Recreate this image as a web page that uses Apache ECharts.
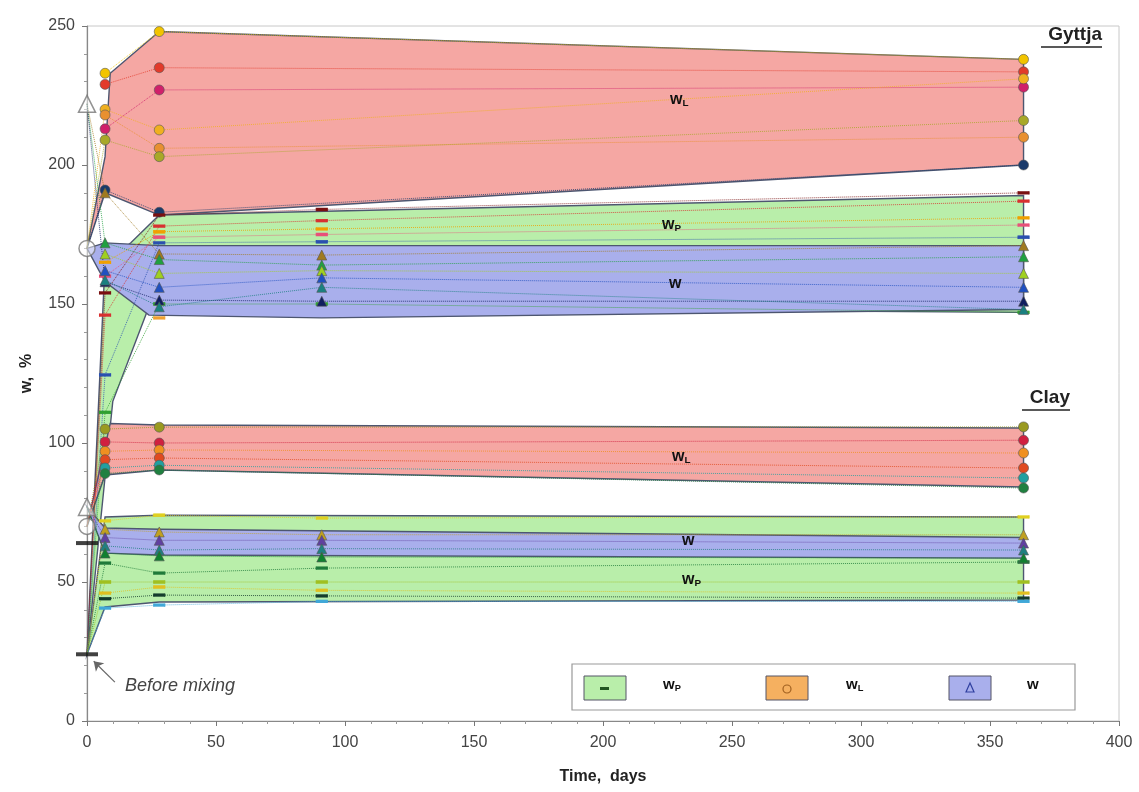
<!DOCTYPE html>
<html><head><meta charset="utf-8">
<script src="https://cdn.jsdelivr.net/npm/echarts@6/dist/echarts.min.js"></script>
<style>html,body{margin:0;padding:0;background:#fff}#c{width:1139px;height:792px}</style>
</head><body><div id="c"></div>
<script>
// ---------- DATA ----------
const days = [0, 7, 28, 91, 363];

// before mixing (day 0)
const beforeW  = [222, 77];
const beforeWL = [170, 70];
const beforeWP = [64, 24];

// band envelopes [day, value]
const gyttjaWLBand = [[0,170],[7,203],[9,233],[28,248],[363,238],[363,200],[28,182],[7,190]];
const gyttjaWPBand = [[0,24],[7,165],[17,172],[28,182],[363,189],[363,147],[24,149],[10,115]];
const gyttjaWBand  = [[0,170],[7,172],[28,171],[363,171],[363,148],[91,145],[24,146],[7,158]];
const clayWLBand   = [[0,70],[9,107],[28,106.5],[363,105.4],[363,84.2],[28,90.3],[7,88.5]];
const clayWPBand   = [[0,24],[7,73.4],[28,74],[363,73.4],[363,43.5],[28,42.8],[7,41]];
const clayWBand    = [[0,77],[7,69.4],[28,69],[363,66],[363,58.6],[28,59.7],[7,60.4]];

// individual samples, values at `days` (null = not measured)
const gyttjaWL = [
  [null,233,248,null,238],
  [null,229,235,null,233.5],
  [null,213,227,null,228],
  [170,220,212.6,null,231],
  [null,218,206,null,210],
  [170,209,203,null,216],
  [170,191,183,null,200]
];
const gyttjaWP = [
  [24,154,182,184,190],
  [24,146,178,180,187],
  [null,165,176,177,181],
  [null,160,174,175,178.4],
  [24,124.5,172,172.4,174],
  [24,111,150,150,147],
  [null,null,145,null,null]
];
const gyttjaW = [
  [222,190,168,167.6,171],
  [222,172,166,164,167],
  [null,168,161,162,161],
  [null,162,156,159.4,156],
  [222,158,151.4,151,151],
  [null,158.6,149,156,148]
];
const clayWL = [
  [70,105,105.7,null,105.8],
  [70,100.4,100,null,101],
  [null,97,97.5,null,96.4],
  [70,94,94.6,null,91],
  [null,91,92,null,87.4],
  [70,89,90.3,null,83.8]
];
const clayWP = [
  [24,72,74,73,73.4],
  [24,56.8,53.2,55,57.2],
  [24,50,50,50,50],
  [null,46,48.2,47,46],
  [null,44,45.3,45,44.2],
  [24,40.6,41.7,43,43]
];
const clayW = [
  [77,69,68,67,67],
  [77,66,65,65,64],
  [null,63,61.5,62,61.5],
  [77,60.4,59.4,59,58.6]
];

// ---------- STYLES ----------
const gWLColors = ['#f2c400','#e23a2a','#d0206a','#f0b020','#e89030','#a8a828','#1a3a6a'];
const gWPColors = ['#7a1010','#d83030','#f0a000','#e8507a','#2a50b0','#30a030','#f0a030'];
const gWColors  = ['#a07a20','#20a040','#a0d020','#2050c0','#101e60','#1a8080'];
const cWLColors = ['#9a9a20','#d02040','#f09020','#e04a20','#20a0a0','#208040'];
const cWPColors = ['#e0d020','#1f7a3a','#a0c020','#e0c020','#143c2c','#40a8d8'];
const cWColors  = ['#c0a020','#6040a0','#208080','#108030'];

const RED = '#f5a7a3', GREEN = '#b9eeaa', BLUE = '#a9afec';
const EDGE = '#4d5670';

function band(pts, fill, z) {
  return {
    type: 'custom', silent: true, z: z, data: [[0, 0]],
    renderItem: function (params, api) {
      return {
        type: 'polygon',
        shape: { points: pts.map(p => api.coord(p)) },
        style: { fill: fill, stroke: EDGE, lineWidth: 1.4 }
      };
    }
  };
}
function samples(rows, colors, kind) {
  return rows.map((r, i) => ({
    type: 'line', silent: true, z: 5, connectNulls: true,
    data: days.map((d, j) => [d, r[j]]).filter(p => p[1] !== null)
              .map(p => p[0] === 0 ? { value: p, symbol: 'none' } : p),
    symbol: kind === 'wL' ? 'circle' : kind === 'w' ? 'triangle' : 'rect',
    symbolSize: kind === 'wP' ? [11, 3] : 10,
    showAllSymbol: true,
    lineStyle: { color: colors[i], width: 1, type: 'dotted', opacity: 0.8 },
    itemStyle: { color: colors[i], borderColor: kind === 'wP' ? colors[i] : '#555', borderWidth: 0.6, opacity: 1 }
  }));
}

const series = [
  band(gyttjaWLBand, RED, 1),
  band(gyttjaWPBand, GREEN, 1),
  band(gyttjaWBand, BLUE, 1),
  band(clayWLBand, RED, 1),
  band(clayWPBand, GREEN, 1),
  band(clayWBand, BLUE, 1),
  ...samples(gyttjaWL, gWLColors, 'wL'),
  ...samples(gyttjaWP, gWPColors, 'wP'),
  ...samples(gyttjaW, gWColors, 'w'),
  ...samples(clayWL, cWLColors, 'wL'),
  ...samples(clayWP, cWPColors, 'wP'),
  ...samples(clayW, cWColors, 'w'),
  { type: 'scatter', z: 8, silent: true, symbol: 'triangle', symbolSize: 17,
    data: beforeW.map(v => [0, v]),
    itemStyle: { color: 'rgba(255,255,255,0.6)', borderColor: '#777', borderWidth: 1.5 } },
  { type: 'scatter', z: 8, silent: true, symbol: 'circle', symbolSize: 16,
    data: beforeWL.map(v => [0, v]),
    itemStyle: { color: 'rgba(255,255,255,0.6)', borderColor: '#777', borderWidth: 1.5 } },
  { type: 'scatter', z: 8, silent: true, symbol: 'rect', symbolSize: [22, 4],
    data: beforeWP.map(v => [0, v]),
    itemStyle: { color: '#111' },
    markLine: { silent: true, symbol: ['none', 'arrow'], symbolSize: 9,
      lineStyle: { color: '#666', type: 'solid', width: 1.2 }, label: { show: false },
      data: [[{ coord: [10.8, 14] }, { coord: [2.6, 21.5] }]] } }
];

function sub(main, s, x, y, size) {
  return { type: 'text', x: x, y: y, z: 20,
    style: { text: '{m|' + main + '}{s|' + s + '}',
      rich: { m: { fontFamily: 'Liberation Sans', fontWeight: 'bold', fontSize: size, fill: '#111' },
              s: { fontFamily: 'Liberation Sans', fontWeight: 'bold', fontSize: size * 0.62, fill: '#111', padding: [size * 0.45, 0, 0, 0] } },
      verticalAlign: 'middle', align: 'left' } };
}
function plain(t, x, y, size) {
  return { type: 'text', x: x, y: y, z: 20,
    style: { text: t, fontFamily: 'Liberation Sans', fontWeight: 'bold', fontSize: size, fill: '#111', verticalAlign: 'middle', align: 'left' } };
}

const graphic = [
  sub('w', 'L', 670, 100, 16),
  sub('w', 'P', 662, 225, 16),
  plain('w', 669, 284, 16),
  sub('w', 'L', 672, 457, 16),
  plain('w', 682, 541, 16),
  sub('w', 'P', 682, 580, 16),
  { type: 'text', x: 1102, y: 35, z: 20, style: { text: 'Gyttja', fontFamily: 'Liberation Sans', fontWeight: 'bold', fontSize: 19, fill: '#222', align: 'right', verticalAlign: 'middle' } },
  { type: 'line', z: 20, shape: { x1: 1041, y1: 47, x2: 1102, y2: 47 }, style: { stroke: '#222', lineWidth: 1.5 } },
  { type: 'text', x: 1070, y: 398, z: 20, style: { text: 'Clay', fontFamily: 'Liberation Sans', fontWeight: 'bold', fontSize: 19, fill: '#222', align: 'right', verticalAlign: 'middle' } },
  { type: 'line', z: 20, shape: { x1: 1022, y1: 410, x2: 1070, y2: 410 }, style: { stroke: '#222', lineWidth: 1.5 } },
  { type: 'text', x: 125, y: 686, z: 20, style: { text: 'Before mixing', fontFamily: 'Liberation Sans', fontStyle: 'italic', fontSize: 18, fill: '#444', verticalAlign: 'middle' } },
  // legend
  { type: 'rect', z: 20, shape: { x: 572, y: 664, width: 503, height: 46 }, style: { fill: '#fff', stroke: '#999', lineWidth: 1.2 } },
  { type: 'rect', z: 21, shape: { x: 584, y: 676, width: 42, height: 24 }, style: { fill: GREEN, stroke: '#556', lineWidth: 1 } },
  { type: 'rect', z: 22, shape: { x: 600, y: 687, width: 9, height: 3 }, style: { fill: '#225522' } },
  sub('w', 'P', 663, 685, 15),
  { type: 'rect', z: 21, shape: { x: 766, y: 676, width: 42, height: 24 }, style: { fill: '#f5b060', stroke: '#556', lineWidth: 1 } },
  { type: 'circle', z: 22, shape: { cx: 787, cy: 689, r: 4 }, style: { fill: 'none', stroke: '#a06020', lineWidth: 1.2 } },
  sub('w', 'L', 846, 685, 15),
  { type: 'rect', z: 21, shape: { x: 949, y: 676, width: 42, height: 24 }, style: { fill: BLUE, stroke: '#556', lineWidth: 1 } },
  { type: 'polygon', z: 22, shape: { points: [[970, 683], [966, 692], [974, 692]] }, style: { fill: 'none', stroke: '#3040a0', lineWidth: 1.2 } },
  plain('w', 1027, 685, 15)
];

const axisCommon = {
  axisLine: { show: true, lineStyle: { color: '#888', width: 1.2 } },
  axisTick: { show: true, length: 5, lineStyle: { color: '#777' } },
  minorTick: { show: true, splitNumber: 5, length: 3, lineStyle: { color: '#999' } },
  splitLine: { show: false },
  axisLabel: { fontFamily: 'Liberation Sans', fontSize: 16, color: '#444' },
  nameTextStyle: { fontFamily: 'Liberation Sans', fontWeight: 'bold', fontSize: 16, color: '#222' }
};

const option = {
  animation: false,
  backgroundColor: '#fff',
  grid: { left: 87, right: 20, top: 26, bottom: 71, show: true, borderColor: '#c8c8c8', borderWidth: 1 },
  xAxis: Object.assign({}, axisCommon, { type: 'value', min: 0, max: 400, interval: 50,
    name: 'Time,  days', nameLocation: 'middle', nameGap: 48,
    axisLabel: Object.assign({}, axisCommon.axisLabel, { margin: 14 }) }),
  yAxis: Object.assign({}, axisCommon, { type: 'value', min: 0, max: 250, interval: 50,
    name: 'w,  %', nameLocation: 'middle', nameGap: 52,
    axisLabel: Object.assign({}, axisCommon.axisLabel, { margin: 12 }) }),
  series: series,
  graphic: graphic
};

const chart = echarts.init(document.getElementById('c'), null, { renderer: 'canvas' });
chart.setOption(option);
</script>
</body></html>
